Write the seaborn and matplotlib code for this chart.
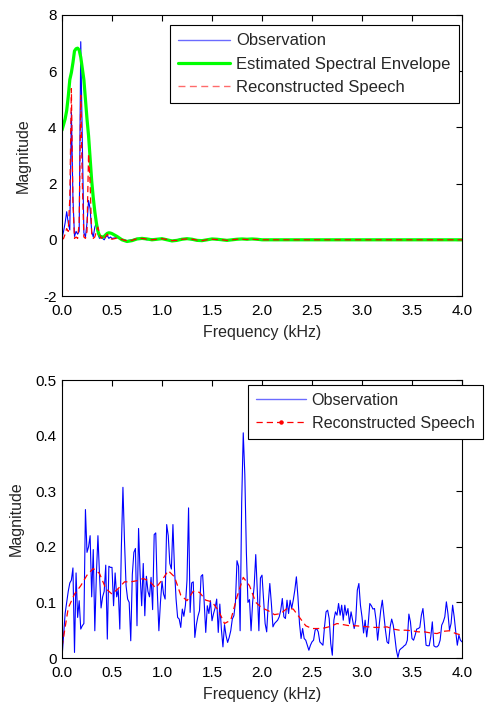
import numpy as np
import pandas as pd
import matplotlib
matplotlib.use("Agg")
import matplotlib.pyplot as plt
from matplotlib.lines import Line2D
import seaborn as sns

# ---------------- data: upper panel (voiced frame) ----------------
# dense grid up to 0.5 kHz, then a coarser grid of the near-flat tail
top_freq_dense = np.linspace(0.0, 0.5, 33)
top_freq_tail = [0.55, 0.60, 0.65, 0.70, 0.75, 0.80, 0.85, 0.90, 0.95, 1.00,
                 1.05, 1.10, 1.15, 1.20, 1.25, 1.30, 1.35, 1.40, 1.45, 1.50,
                 1.55, 1.60, 1.65, 1.70, 1.75, 1.80, 1.85, 1.90, 1.95, 2.00, 4.00]
top_freq = np.concatenate([top_freq_dense, top_freq_tail])

top_observation = [
    0.05, 0.30, 0.60, 1.00, 0.60, 0.35, 4.55, 1.50, 0.12, 0.30, 0.20,
    0.30, 7.05, 3.50, 0.25, 0.10, 0.60, 1.40, 1.10, 0.30, 0.10, 0.45,
    0.60, 0.20, 0.05, 0.15, 0.05, 0.00, 0.10, 0.15, 0.05, 0.10, 0.05,
    0.08, 0.02, -0.03, 0.00, 0.05, 0.04, 0.00, 0.03, 0.01, 0.05,
    0.00, -0.03, 0.00, 0.04, 0.03, 0.00, -0.02, -0.02, 0.01, 0.03,
    0.00, 0.01, -0.01, 0.01, 0.02, 0.03, 0.01, 0.02, 0.01, 0.00, 0.00,
]
top_envelope = [
    3.90, 4.10, 4.30, 4.60, 5.10, 5.70, 5.95, 6.30, 6.72, 6.80, 6.82,
    6.75, 6.50, 6.10, 5.70, 5.00, 4.30, 3.70, 2.90, 2.10, 1.50, 1.00,
    0.60, 0.30, 0.15, 0.10, 0.10, 0.12, 0.18, 0.23, 0.25, 0.24, 0.22,
    0.12, 0.00, -0.06, -0.03, 0.03, 0.05, 0.03, 0.00, 0.02, 0.04,
    0.00, -0.04, -0.02, 0.02, 0.04, 0.02, -0.02, -0.03, 0.00, 0.03,
    0.02, 0.00, -0.02, 0.00, 0.02, 0.03, 0.02, 0.03, 0.02, 0.00, 0.00,
]
top_reconstructed = [
    0.00, 0.05, 0.20, 0.40, 0.30, 1.50, 5.38, 1.30, 0.05, 0.10, 0.05,
    0.60, 5.14, 2.00, 0.10, 0.05, 0.30, 3.06, 2.00, 0.20, 0.05, 0.10,
    0.30, 0.45, 0.20, 0.05, 0.10, 0.02, 0.12, 0.20, 0.10, 0.05, 0.02,
    0.06, 0.01, -0.04, -0.02, 0.04, 0.05, 0.02, 0.00, 0.02, 0.04,
    0.01, -0.03, -0.02, 0.02, 0.03, 0.02, -0.01, -0.03, 0.00, 0.02,
    0.01, 0.00, -0.02, 0.00, 0.02, 0.02, 0.01, 0.02, 0.01, 0.00, 0.00,
]

# ---------------- data: lower panel (noisy frame) ----------------
bottom_freq = np.linspace(0.0, 4.0, 257)
bottom_observation = [
    # 0.0 - 0.5 kHz
    0.000, 0.040, 0.080, 0.100, 0.120, 0.135, 0.140, 0.162, 0.010, 0.153, 0.073,
    0.103, 0.052, 0.058, 0.062, 0.267, 0.190, 0.200, 0.220, 0.110, 0.195, 0.049,
    0.150, 0.220, 0.150, 0.090, 0.110, 0.120, 0.167, 0.034, 0.165, 0.163,
    # 0.5 - 1.0 kHz
    0.163, 0.094, 0.153, 0.110, 0.123, 0.052, 0.200, 0.307, 0.210, 0.130, 0.106,
    0.100, 0.031, 0.150, 0.190, 0.197, 0.058, 0.233, 0.150, 0.094, 0.170, 0.076,
    0.147, 0.120, 0.110, 0.145, 0.087, 0.222, 0.225, 0.120, 0.049, 0.100,
    # 1.0 - 1.5 kHz
    0.138, 0.115, 0.106, 0.240, 0.220, 0.170, 0.160, 0.240, 0.160, 0.106, 0.073,
    0.070, 0.055, 0.088, 0.075, 0.095, 0.140, 0.270, 0.082, 0.135, 0.137, 0.037,
    0.060, 0.075, 0.085, 0.147, 0.150, 0.100, 0.046, 0.094, 0.080, 0.103,
    # 1.5 - 2.0 kHz
    0.067, 0.080, 0.090, 0.106, 0.046, 0.097, 0.052, 0.020, 0.060, 0.040, 0.028,
    0.037, 0.049, 0.070, 0.076, 0.100, 0.175, 0.165, 0.049, 0.280, 0.405, 0.330,
    0.190, 0.100, 0.105, 0.049, 0.100, 0.130, 0.186, 0.120, 0.049, 0.144,
    # 2.0 - 2.5 kHz
    0.149, 0.104, 0.062, 0.047, 0.098, 0.134, 0.098, 0.056, 0.062, 0.065, 0.068,
    0.074, 0.086, 0.107, 0.074, 0.071, 0.104, 0.080, 0.104, 0.089, 0.104, 0.122,
    0.146, 0.110, 0.062, 0.035, 0.053, 0.035, 0.032, 0.023, 0.014, 0.023,
    # 2.5 - 3.0 kHz
    0.029, 0.032, 0.050, 0.053, 0.047, 0.029, 0.026, 0.023, 0.056, 0.083, 0.086,
    0.071, 0.026, 0.005, 0.068, 0.083, 0.077, 0.098, 0.077, 0.095, 0.068, 0.095,
    0.077, 0.089, 0.062, 0.083, 0.068, 0.053, 0.068, 0.122, 0.134, 0.095,
    # 3.0 - 3.5 kHz
    0.074, 0.045, 0.068, 0.038, 0.062, 0.098, 0.094, 0.088, 0.089, 0.068, 0.032,
    0.059, 0.086, 0.104, 0.076, 0.050, 0.029, 0.026, 0.056, 0.070, 0.059, 0.038,
    0.014, 0.001, 0.014, 0.017, 0.019, 0.022, 0.024, 0.032, 0.079, 0.065,
    # 3.5 - 4.0 kHz
    0.035, 0.032, 0.041, 0.052, 0.053, 0.055, 0.077, 0.089, 0.059, 0.023, 0.022,
    0.022, 0.038, 0.065, 0.022, 0.020, 0.020, 0.023, 0.032, 0.059, 0.065, 0.074,
    0.101, 0.080, 0.050, 0.062, 0.095, 0.074, 0.047, 0.023, 0.041, 0.032, 0.029,
]

bottom_recon_freq = np.linspace(0.0, 4.0, 65)
bottom_reconstructed = [
    0.020, 0.090, 0.115, 0.130, 0.149, 0.161, 0.152, 0.125, 0.115, 0.125, 0.137,
    0.137, 0.139, 0.143, 0.138, 0.126, 0.140, 0.157, 0.146, 0.113, 0.103, 0.120,
    0.118, 0.104, 0.101, 0.086, 0.062, 0.068, 0.110, 0.145, 0.130, 0.100, 0.090,
    0.085, 0.078, 0.080, 0.089, 0.088, 0.073, 0.058, 0.053, 0.053, 0.054, 0.057,
    0.062, 0.060, 0.058, 0.058, 0.057, 0.056, 0.055, 0.055, 0.056, 0.052, 0.050,
    0.050, 0.049, 0.047, 0.047, 0.045, 0.044, 0.048, 0.049, 0.044, 0.041,
]

x_ticks = [0.0, 0.5, 1.0, 1.5, 2.0, 2.5, 3.0, 3.5, 4.0]
x_tick_labels = ["0.0", "0.5", "1.0", "1.5", "2.0", "2.5", "3.0", "3.5", "4.0"]
top_y_ticks = [-2, 0, 2, 4, 6, 8]
bottom_y_ticks = [0, 0.1, 0.2, 0.3, 0.4, 0.5]
bottom_y_tick_labels = ["0", "0.1", "0.2", "0.3", "0.4", "0.5"]

# ---------------- styling ----------------
sns.set_theme(style="white")
plt.rcParams["font.family"] = ["Liberation Sans", "DejaVu Sans"]
plt.rcParams["axes.unicode_minus"] = False
plt.rcParams["axes.linewidth"] = 0.8
plt.rcParams["axes.edgecolor"] = "black"

BLUE = "#0000ff"
GREEN = "#00ff00"
RED = "#ff0000"
DASH = (0, (5.0, 3.2))
TICK_FS = 11
LABEL_FS = 11.5

fig = plt.figure(figsize=(4.90, 7.02), dpi=100)
ax_top = fig.add_axes([62 / 490, 1 - 296 / 702, 400 / 490, 281 / 702])
ax_bot = fig.add_axes([62 / 490, 1 - 658 / 702, 400 / 490, 278 / 702])


def style_axes(ax):
    ax.set_xlim(0, 4)
    ax.set_xticks(x_ticks)
    ax.set_xticklabels(x_tick_labels)
    ax.tick_params(direction="in", length=4, width=0.8, top=True, right=True,
                   labelsize=TICK_FS, colors="black")
    ax.tick_params(axis="x", pad=6)
    ax.tick_params(axis="y", pad=4)
    for s in ax.spines.values():
        s.set_visible(True)
        s.set_color("black")
        s.set_linewidth(0.8)
    ax.set_xlabel("Frequency (kHz)", fontsize=LABEL_FS, labelpad=4.5)
    ax.set_ylabel("Magnitude", fontsize=LABEL_FS, labelpad=8.5)
    ax.grid(False)


def add_legend(ax, handles, labels, left_px, top_px, fontsize):
    leg = ax.legend(handles, labels, loc="upper left",
                    bbox_to_anchor=(left_px / 490, 1 - top_px / 702),
                    bbox_transform=fig.transFigure, frameon=True,
                    fancybox=False, edgecolor="black", framealpha=1.0,
                    fontsize=fontsize, handlelength=3.1, handletextpad=0.35,
                    labelspacing=0.5, borderpad=0.5, borderaxespad=0.0,
                    numpoints=1)
    leg.get_frame().set_linewidth(0.8)
    leg.set_clip_on(False)
    return leg


# upper panel
df_obs = pd.DataFrame({"f": top_freq, "m": top_observation})
df_env = pd.DataFrame({"f": top_freq, "m": top_envelope})
df_rec = pd.DataFrame({"f": top_freq, "m": top_reconstructed})
sns.lineplot(data=df_obs, x="f", y="m", ax=ax_top, color=BLUE, lw=0.8,
             estimator=None, sort=False)
sns.lineplot(data=df_env, x="f", y="m", ax=ax_top, color=GREEN, lw=2.3,
             estimator=None, sort=False)
sns.lineplot(data=df_rec, x="f", y="m", ax=ax_top, color=RED, lw=0.9,
             linestyle=DASH, estimator=None, sort=False)
ax_top.set_ylim(-2, 8)
ax_top.set_yticks(top_y_ticks)
style_axes(ax_top)

top_handles = [
    Line2D([], [], color="#6b6bff", lw=1.0),
    Line2D([], [], color=GREEN, lw=2.3),
    Line2D([], [], color="#ff6b6b", lw=1.0, linestyle=DASH),
]
add_legend(ax_top, top_handles,
           ["Observation", "Estimated Spectral Envelope", "Reconstructed Speech"],
           170, 25, 12)

# lower panel
df_bobs = pd.DataFrame({"f": bottom_freq, "m": bottom_observation})
df_brec = pd.DataFrame({"f": bottom_recon_freq, "m": bottom_reconstructed})
sns.lineplot(data=df_bobs, x="f", y="m", ax=ax_bot, color=BLUE, lw=0.8,
             estimator=None, sort=False)
sns.lineplot(data=df_brec, x="f", y="m", ax=ax_bot, color=RED, lw=0.9,
             linestyle=DASH, estimator=None, sort=False)
ax_bot.set_ylim(0, 0.5)
ax_bot.set_yticks(bottom_y_ticks)
ax_bot.set_yticklabels(bottom_y_tick_labels)
style_axes(ax_bot)

bot_handles = [
    Line2D([], [], color="#6b6bff", lw=1.0),
    Line2D([], [], color=RED, lw=0.9, linestyle=DASH, marker="o", markersize=2.2),
]
add_legend(ax_bot, bot_handles, ["Observation", "Reconstructed Speech"], 248, 385, 11.6)

fig.savefig("out.png", dpi=100, facecolor="white")
